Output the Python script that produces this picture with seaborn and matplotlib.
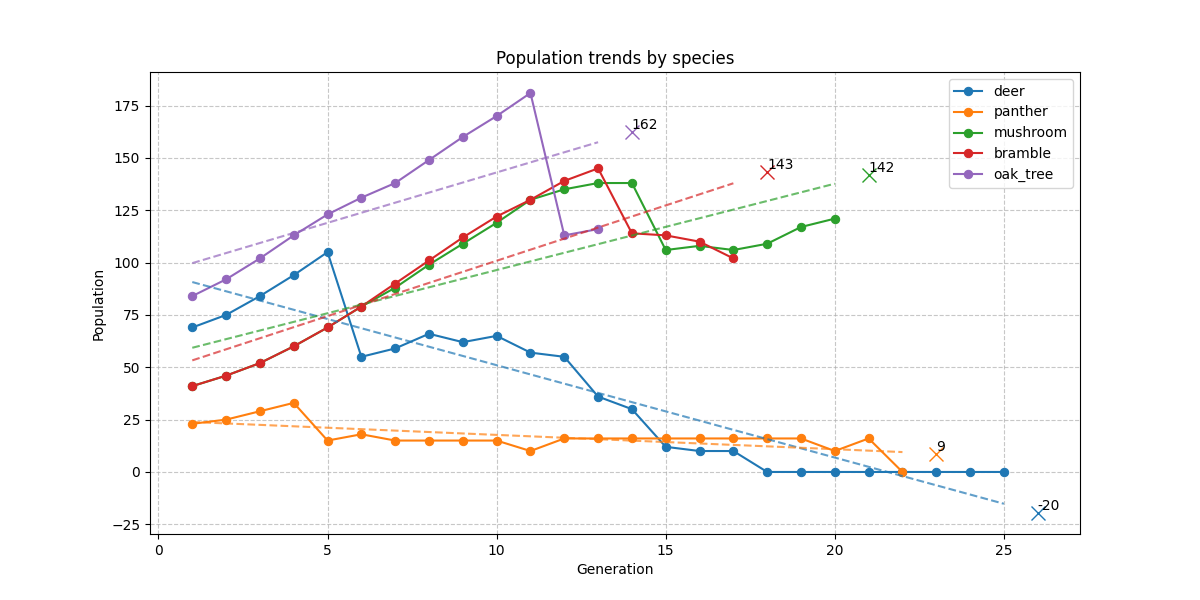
import numpy as np
import pandas as pd
import matplotlib
matplotlib.use("Agg")
import matplotlib.pyplot as plt
import seaborn as sns

# Population per generation
deer = [69, 75, 84, 94, 105, 55, 59, 66, 62, 65, 57, 55, 36, 30, 12, 10, 10,
        0, 0, 0, 0, 0, 0, 0, 0]
panther = [23, 25, 29, 33, 15, 18, 15, 15, 15, 15, 10, 16, 16, 16, 16, 16, 16,
           16, 16, 10, 16, 0]
mushroom = [41, 46, 52, 60, 69, 79, 88, 99, 109, 119, 130, 135, 138, 138, 106,
            108, 106, 109, 117, 121]
bramble = [41, 46, 52, 60, 69, 79, 90, 101, 112, 122, 130, 139, 145, 114, 113,
           110, 102]
oak_tree = [84, 92, 102, 113, 123, 131, 138, 149, 160, 170, 181, 113, 116]

species = ["deer", "panther", "mushroom", "bramble", "oak_tree"]
series = [deer, panther, mushroom, bramble, oak_tree]
colors = sns.color_palette("tab10", len(species))

fig, ax = plt.subplots(figsize=(12, 6), dpi=100)

for name, values, color in zip(species, series, colors):
    df = pd.DataFrame({"generation": np.arange(1, len(values) + 1),
                       "population": values})
    sns.lineplot(data=df, x="generation", y="population", ax=ax, color=color,
                 marker="o", markersize=6, markeredgecolor=color,
                 linewidth=1.5, label=name)

for name, values, color in zip(species, series, colors):
    gen = np.arange(1, len(values) + 1)
    slope, intercept = np.polyfit(gen, values, 1)
    ax.plot(gen, slope * gen + intercept, linestyle="--", color=color,
            alpha=0.7, linewidth=1.5)
    nxt = len(values) + 1
    pred = slope * nxt + intercept
    ax.plot([nxt], [pred], marker="x", markersize=10, color=color,
            linestyle="none")
    ax.annotate(f"{pred:.0f}", (nxt, pred), xytext=(0, 2),
                textcoords="offset points", fontsize=10)

ax.set_title("Population trends by species")
ax.set_xlabel("Generation")
ax.set_ylabel("Population")
ax.grid(True, linestyle="--", alpha=0.7)
ax.legend(loc="upper right")

plt.savefig("out.png", dpi=100)
plt.close()
